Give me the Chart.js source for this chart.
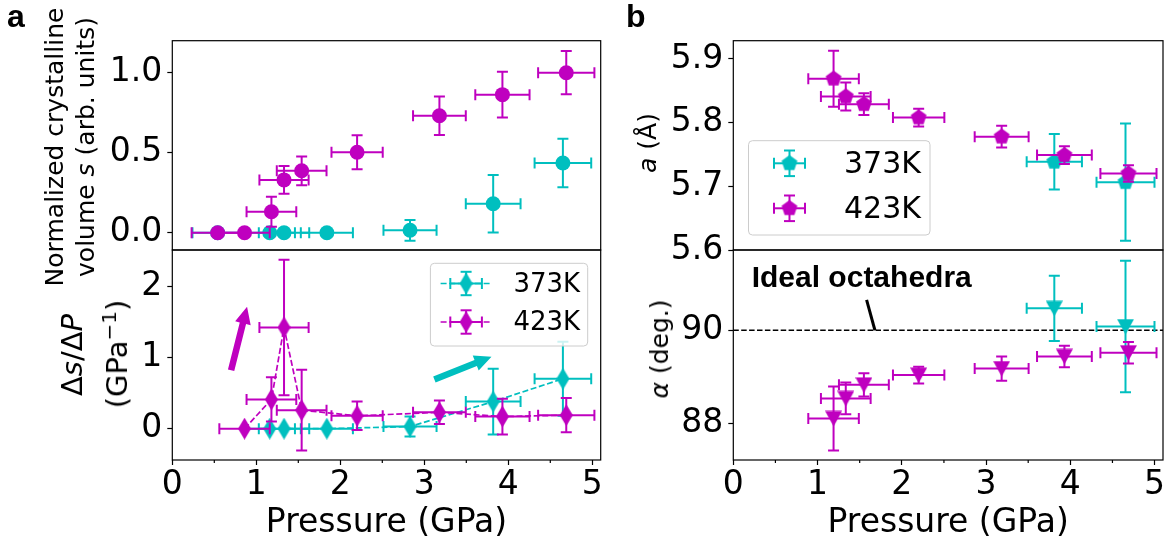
<!DOCTYPE html>
<html>
<head>
<meta charset="utf-8">
<title>Crystalline volume and lattice vs pressure</title>
<script src="https://cdn.jsdelivr.net/npm/chart.js@4.4.1/dist/chart.umd.min.js"></script>
<style>
  body { margin: 0; background: #fff; }
  #fig { position: relative; width: 1169px; height: 543px; overflow: hidden; background: #fff; font-family: 'DejaVu Sans', sans-serif; color: #000; }
  #fig canvas { position: absolute; }
  .ylab { position: absolute; white-space: nowrap; font-size: 25px; line-height: 30px; transform: translate(-50%, -50%) rotate(-90deg); }
  .ylab.big { font-size: 29px; line-height: 34px; }
  .ylab sup { font-size: 20px; line-height: 0; }
  .tag { position: absolute; font: bold 32px/32px 'Liberation Sans', Arial, sans-serif; }
</style>
</head>
<body>
<div id="fig">
  <canvas id="volTop" width="620" height="280" style="left:0;top:0"></canvas>
  <canvas id="volRate" width="620" height="323" style="left:0;top:220px"></canvas>
  <canvas id="latA" width="569" height="280" style="left:600px;top:0"></canvas>
  <canvas id="latAlpha" width="569" height="323" style="left:600px;top:220px"></canvas>
  <div class="tag" style="left:7px;top:0">a</div>
  <div class="tag" style="left:626px;top:0">b</div>
  <div class="ylab" style="left:55px;top:147px">Normalized crystalline</div>
  <div class="ylab" style="left:86px;top:147px">volume <i>s</i> (arb. units)</div>
  <div class="ylab big" style="left:72px;top:355px">Δ<i>s</i>/Δ<i>P</i></div>
  <div class="ylab big" style="left:117px;top:354px">(GPa<sup>−1</sup>)</div>
  <div class="ylab" style="left:648px;top:143px"><i>a</i> (Å)</div>
  <div class="ylab" style="left:660px;top:349px"><i>α</i> (deg.)</div>
</div>
<script>
// ---- data (pressure in GPa, errors are half widths) ----
// panel a, top: normalized crystalline volume s
const pS373 = [0.54, 1.16, 1.33, 1.84, 2.83, 3.82, 4.65];
const pS373Err = [0.30, 0.30, 0.30, 0.31, 0.316, 0.326, 0.337];
const s373 = [0, 0, 0, 0, 0.015, 0.181, 0.436];
const s373Err = [0, 0, 0, 0, 0.065, 0.18, 0.152];

const pS423 = [0.54, 0.86, 1.18, 1.33, 1.54, 2.2, 3.18, 3.93, 4.69];
const pS423Err = [0.31, 0.30, 0.296, 0.293, 0.296, 0.305, 0.314, 0.323, 0.335];
const s423 = [0, 0, 0.131, 0.33, 0.387, 0.503, 0.731, 0.863, 1.0];
const s423Err = [0, 0, 0.094, 0.087, 0.09, 0.106, 0.12, 0.143, 0.135];

// panel a, bottom: rate ds/dP
const pR373 = [1.16, 1.33, 1.84, 2.83, 3.82, 4.65];
const pR373Err = [0.30, 0.30, 0.31, 0.316, 0.326, 0.337];
const r373 = [0, 0, 0, 0.03, 0.38, 0.70];
const r373Err = [0, 0, 0, 0.14, 0.46, 0.52];

const pR423 = [0.86, 1.18, 1.33, 1.54, 2.2, 3.18, 3.93, 4.69];
const pR423Err = [0.30, 0.296, 0.293, 0.296, 0.305, 0.314, 0.323, 0.335];
const r423 = [0, 0.41, 1.42, 0.26, 0.18, 0.23, 0.17, 0.19];
const r423Err = [0, 0.31, 0.95, 0.565, 0.2, 0.165, 0.25, 0.24];

// panel b: lattice parameter a and angle alpha
const pL373 = [3.81, 4.655];
const pL373Err = [0.328, 0.344];
const a373 = [5.7385, 5.7065];
const a373Err = [0.0435, 0.092];
const alpha373 = [90.47, 90.08];
const alpha373Err = [0.70, 1.41];

const pL423 = [1.19, 1.335, 1.55, 2.2, 3.185, 3.93, 4.69];
const pL423Err = [0.30, 0.295, 0.296, 0.305, 0.32, 0.325, 0.333];
const a423 = [5.869, 5.841, 5.829, 5.808, 5.778, 5.749, 5.720];
const a423Err = [0.044, 0.022, 0.017, 0.014, 0.017, 0.014, 0.013];
const alpha423 = [88.11, 88.54, 88.83, 89.04, 89.18, 89.44, 89.52];
const alpha423Err = [0.685, 0.34, 0.25, 0.18, 0.26, 0.23, 0.23];

const idealAlpha = 90;

// tick labels
const pressureTicks = ['0', '1', '2', '3', '4', '5'];
const pressureMinor = [0.5, 1.5, 2.5, 3.5, 4.5];
const sTicks = ['0.0', '0.5', '1.0'];
const rateTicks = ['0', '1', '2'];
const aTicks = ['5.6', '5.7', '5.8', '5.9'];
const alphaTicks = ['88', '90'];

// ---- styling ----
const CYAN = '#00bfbf';
const MAGENTA = '#bf00bf';
const FONT = "'DejaVu Sans', sans-serif";
const CAP = 5.5;

function markerImage(kind, color) {
  const c = document.createElement('canvas');
  if (kind === 'thinDiamond') { c.width = 13; c.height = 22; }
  else if (kind === 'pentagon') { c.width = 18; c.height = 18; }
  else { c.width = 17; c.height = 16; }
  const g = c.getContext('2d');
  g.fillStyle = color;
  g.beginPath();
  if (kind === 'thinDiamond') {
    g.moveTo(6.5, 0); g.lineTo(13, 11); g.lineTo(6.5, 22); g.lineTo(0, 11);
  } else if (kind === 'pentagon') {
    for (let k = 0; k < 5; k++) {
      const t = (-90 + 72 * k) * Math.PI / 180;
      g.lineTo(9 + 8.3 * Math.cos(t), 9 + 8.3 * Math.sin(t));
    }
  } else {
    g.moveTo(0, 0.5); g.lineTo(17, 0.5); g.lineTo(8.5, 16);
  }
  g.closePath();
  g.fill();
  return c;
}

function series(label, color, px, pxErr, py, pyErr, marker, extra) {
  return Object.assign({
    label: label,
    data: px.map((p, i) => ({ x: p, y: py[i] })),
    errX: pxErr,
    errY: pyErr,
    borderColor: color,
    backgroundColor: color,
    pointBackgroundColor: color,
    pointBorderColor: color,
    pointStyle: marker,
    pointRadius: 7.5,
    pointBorderWidth: 0,
    showLine: false,
    order: label === '423K' ? 0 : 1
  }, extra || {});
}

function line(ctx, x0, y0, x1, y1) {
  ctx.beginPath(); ctx.moveTo(x0, y0); ctx.lineTo(x1, y1); ctx.stroke();
}

function errorCross(ctx, cx, cy, x0, x1, y0, y1) {
  if (x0 !== x1) {
    line(ctx, x0, cy, x1, cy);
    line(ctx, x0, cy - CAP, x0, cy + CAP);
    line(ctx, x1, cy - CAP, x1, cy + CAP);
  }
  if (y0 !== y1) {
    line(ctx, cx, y0, cx, y1);
    line(ctx, cx - CAP, y0, cx + CAP, y0);
    line(ctx, cx - CAP, y1, cx + CAP, y1);
  }
}

function drawMarker(ctx, ds, x, y) {
  if (typeof ds.pointStyle === 'object') {
    const m = ds.pointStyle;
    ctx.drawImage(m, x - m.width / 2, y - m.height / 2);
  } else {
    ctx.fillStyle = ds.borderColor;
    ctx.beginPath(); ctx.arc(x, y, ds.pointRadius, 0, Math.PI * 2); ctx.fill();
  }
}

function arrow(ctx, x0, y0, x1, y1, w, hw, hl) {
  const L = Math.hypot(x1 - x0, y1 - y0);
  const ux = (x1 - x0) / L, uy = (y1 - y0) / L;
  const nx = -uy, ny = ux;
  const bx = x1 - ux * hl, by = y1 - uy * hl;
  ctx.beginPath();
  ctx.moveTo(x0 + nx * w / 2, y0 + ny * w / 2);
  ctx.lineTo(bx + nx * w / 2, by + ny * w / 2);
  ctx.lineTo(bx + nx * hw / 2, by + ny * hw / 2);
  ctx.lineTo(x1, y1);
  ctx.lineTo(bx - nx * hw / 2, by - ny * hw / 2);
  ctx.lineTo(bx - nx * w / 2, by - ny * w / 2);
  ctx.lineTo(x0 - nx * w / 2, y0 - ny * w / 2);
  ctx.closePath();
  ctx.fill();
}

function drawLegend(chart, L) {
  const { ctx, chartArea: a } = chart;
  const bx = L.fromRight ? a.right - L.dx - L.w : a.left + L.dx;
  const by = a.top + L.dy;
  ctx.save();
  ctx.beginPath();
  ctx.roundRect(bx, by, L.w, L.h, 4);
  ctx.fillStyle = 'rgba(255,255,255,0.8)';
  ctx.fill();
  ctx.strokeStyle = '#cccccc';
  ctx.lineWidth = 1;
  ctx.stroke();
  const items = chart.data.datasets.slice().sort((p, q) => (p.label < q.label ? -1 : 1));
  items.forEach((ds, k) => {
    const hx = bx + L.hx, hy = by + L.rows[k];
    ctx.strokeStyle = ds.borderColor;
    if (ds.showLine) {
      ctx.lineWidth = ds.borderWidth;
      ctx.setLineDash(ds.borderDash);
      line(ctx, hx - L.lineHalf, hy, hx + L.lineHalf, hy);
      ctx.setLineDash([]);
    }
    ctx.lineWidth = 2;
    errorCross(ctx, hx, hy, hx - L.xBar, hx + L.xBar, hy - L.yBar, hy + L.yBar);
    drawMarker(ctx, ds, hx, hy);
    ctx.fillStyle = '#000';
    ctx.font = L.font + 'px ' + FONT;
    ctx.textAlign = 'left';
    ctx.textBaseline = 'middle';
    ctx.fillText(ds.label, bx + L.tx, hy + 1.5);
  });
  ctx.restore();
}

function deco(cfg) {
  return {
    id: 'deco',
    beforeDatasetsDraw(chart) {
      if (cfg.refY === undefined) return;
      const { ctx, chartArea: a, scales: { y } } = chart;
      const py = y.getPixelForValue(cfg.refY);
      ctx.save();
      ctx.strokeStyle = '#000';
      ctx.lineWidth = 1.5;
      ctx.setLineDash([5.5, 2.4]);
      line(ctx, a.left, py, a.right, py);
      ctx.restore();
    },
    beforeDatasetDraw(chart, args) {
      const ds = chart.data.datasets[args.index];
      const { ctx, chartArea: a, scales: { x, y } } = chart;
      ctx.save();
      ctx.beginPath();
      ctx.rect(a.left, a.top, a.width, a.height);
      ctx.clip();
      ctx.strokeStyle = ds.borderColor;
      ctx.lineWidth = 2;
      ds.data.forEach((d, i) => {
        const ex = ds.errX[i], ey = ds.errY[i];
        errorCross(ctx,
          x.getPixelForValue(d.x), y.getPixelForValue(d.y),
          x.getPixelForValue(d.x - ex), x.getPixelForValue(d.x + ex),
          y.getPixelForValue(d.y + ey), y.getPixelForValue(d.y - ey));
      });
      ctx.restore();
    },
    afterDatasetsDraw(chart) {
      const { ctx, scales: { x, y } } = chart;
      ctx.save();
      (cfg.arrows || []).forEach(ar => {
        ctx.fillStyle = ar.color;
        arrow(ctx, x.getPixelForValue(ar.from[0]), y.getPixelForValue(ar.from[1]),
          x.getPixelForValue(ar.to[0]), y.getPixelForValue(ar.to[1]), 6.5, 16, 17);
      });
      if (cfg.note) {
        const n = cfg.note;
        ctx.fillStyle = '#000';
        ctx.font = "bold 30px 'Liberation Sans', Arial, sans-serif";
        ctx.textAlign = 'left';
        ctx.textBaseline = 'alphabetic';
        ctx.fillText(n.text, x.getPixelForValue(n.at[0]), y.getPixelForValue(n.at[1]));
        ctx.strokeStyle = '#000';
        ctx.lineWidth = 3;
        line(ctx, x.getPixelForValue(n.from[0]), y.getPixelForValue(n.from[1]),
          x.getPixelForValue(n.to[0]), y.getPixelForValue(n.to[1]));
      }
      ctx.restore();
      if (cfg.legend) drawLegend(chart, cfg.legend);
    },
    afterDraw(chart) {
      const { ctx, chartArea: a, scales: { x } } = chart;
      ctx.save();
      ctx.strokeStyle = '#000';
      ctx.lineWidth = 1.2;
      if (cfg.minorX) {
        cfg.minorX.forEach(v => {
          const px = x.getPixelForValue(v);
          line(ctx, px, a.bottom, px, a.bottom + 3);
        });
      }
      ctx.strokeRect(a.left, a.top, a.right - a.left, a.bottom - a.top);
      ctx.restore();
    }
  };
}

function yAxis(min, max, labels, width) {
  return {
    type: 'linear',
    min: min,
    max: max,
    afterFit: s => { s.width = width; },
    afterBuildTicks: s => { s.ticks = labels.map(t => ({ value: parseFloat(t) })); },
    ticks: { callback: (v, i) => labels[i], color: '#000', font: { family: FONT, size: 33 }, padding: 5 },
    grid: { display: true, drawOnChartArea: false, drawTicks: true, tickLength: 5, tickWidth: 1.2, tickColor: '#000' },
    border: { display: false }
  };
}

function xAxis(show) {
  const ax = {
    type: 'linear',
    min: 0,
    max: 5.1,
    display: show,
    afterBuildTicks: s => { s.ticks = pressureTicks.map(t => ({ value: parseFloat(t) })); },
    ticks: { callback: (v, i) => pressureTicks[i], color: '#000', font: { family: FONT, size: 33 }, padding: 1, maxRotation: 0, autoSkip: false },
    grid: { display: true, drawOnChartArea: false, drawTicks: true, tickLength: 5, tickWidth: 1.2, tickColor: '#000' },
    border: { display: false },
    title: { display: show, text: 'Pressure (GPa)', color: '#000', font: { family: FONT, size: 33 }, padding: 0 }
  };
  if (show) ax.afterFit = s => { s.height = 83; };
  return ax;
}

function panel(id, datasets, x, y, padding, cfg) {
  return new Chart(document.getElementById(id), {
    type: 'scatter',
    data: { datasets: datasets },
    options: {
      responsive: false,
      animation: false,
      events: [],
      layout: { autoPadding: false, padding: padding },
      plugins: { legend: { display: false }, tooltip: { enabled: false } },
      scales: { x: x, y: y }
    },
    plugins: [deco(cfg)]
  });
}

const dash = { showLine: true, borderWidth: 1.7, borderDash: [6, 2.6] };

panel('volTop', [
  series('373K', CYAN, pS373, pS373Err, s373, s373Err, 'circle'),
  series('423K', MAGENTA, pS423, pS423Err, s423, s423Err, 'circle')
], xAxis(false), yAxis(-0.108, 1.2, sTicks, 172.3),
  { left: 0, top: 40.7, right: 19.3, bottom: 30 }, {});

panel('volRate', [
  series('373K', CYAN, pR373, pR373Err, r373, r373Err, markerImage('thinDiamond', CYAN), dash),
  series('423K', MAGENTA, pR423, pR423Err, r423, r423Err, markerImage('thinDiamond', MAGENTA), dash)
], xAxis(true), yAxis(-0.439, 2.505, rateTicks, 172.3),
  { left: 0, top: 30, right: 19.3, bottom: 0 },
  {
    minorX: pressureMinor,
    arrows: [
      { color: MAGENTA, from: [0.70, 0.82], to: [0.89, 1.71] },
      { color: CYAN, from: [3.12, 0.69], to: [3.80, 1.01] }
    ],
    legend: { fromRight: true, dx: 13, dy: 13.3, w: 157.3, h: 82.7, rows: [20.2, 58.7], hx: 35.7, lineHalf: 25.5, xBar: 15.8, yBar: 11.7, tx: 83, font: 26 }
  });

panel('latA', [
  series('373K', CYAN, pL373, pL373Err, a373, a373Err, markerImage('pentagon', CYAN)),
  series('423K', MAGENTA, pL423, pL423Err, a423, a423Err, markerImage('pentagon', MAGENTA))
], xAxis(false), yAxis(5.6, 5.9287, aTicks, 133.3),
  { left: 0, top: 40.7, right: 6, bottom: 30 },
  {
    legend: { fromRight: false, dx: 15.2, dy: 100, w: 181.5, h: 94.3, rows: [22.6, 67.6], hx: 41, lineHalf: 0, xBar: 15.5, yBar: 12.8, tx: 95.5, font: 30 }
  });

panel('latAlpha', [
  series('373K', CYAN, pL373, pL373Err, alpha373, alpha373Err, markerImage('triangleDown', CYAN)),
  series('423K', MAGENTA, pL423, pL423Err, alpha423, alpha423Err, markerImage('triangleDown', MAGENTA))
], xAxis(true), yAxis(87.22, 91.72, alphaTicks, 133.3),
  { left: 0, top: 30, right: 6, bottom: 0 },
  {
    minorX: pressureMinor,
    refY: idealAlpha,
    note: { text: 'Ideal octahedra', at: [0.218, 90.92], from: [1.582, 90.65], to: [1.681, 90.0] }
  });
</script>
</body>
</html>
